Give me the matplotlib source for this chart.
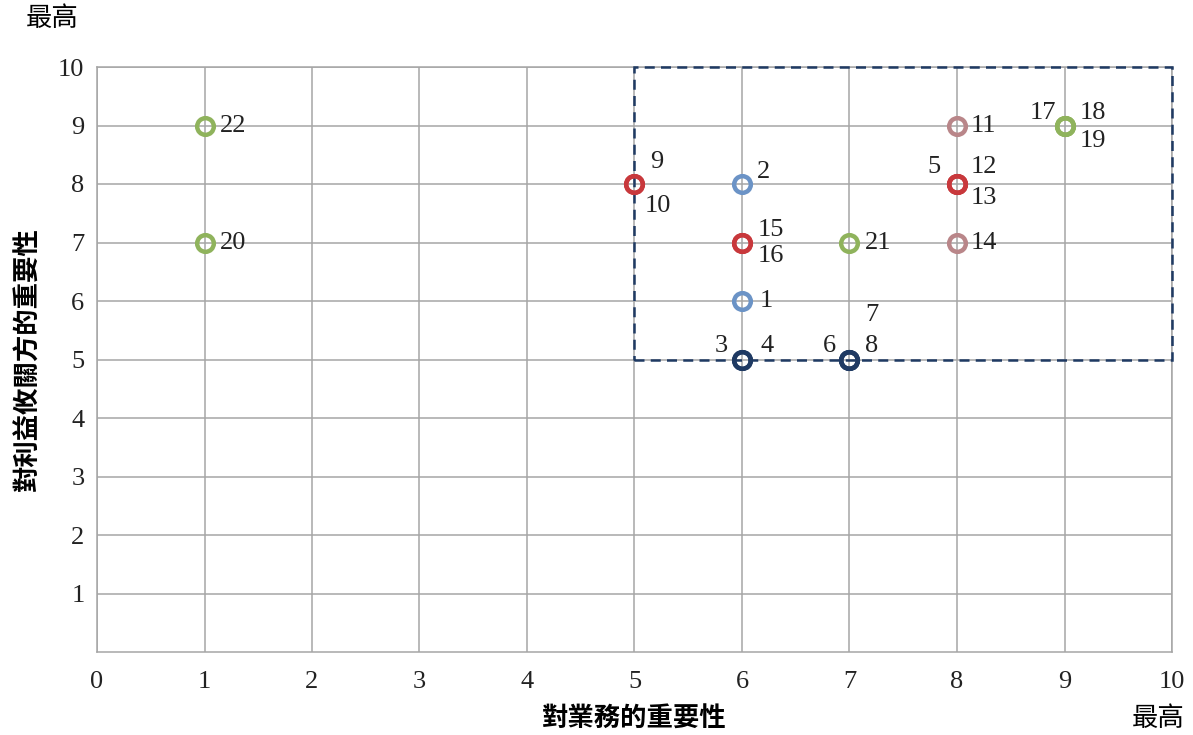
import matplotlib.pyplot as plt
from matplotlib.patches import Rectangle

# Datos: id de cada tema, importancia para el negocio (x), para las partes interesadas (y), grupo
ids = [1, 2, 3, 4, 5, 6, 7, 8, 9, 10, 11, 12, 13, 14, 15, 16, 17, 18, 19, 20, 21, 22]
negocio = [6, 6, 6, 6, 8, 7, 7, 7, 5, 5, 8, 8, 8, 8, 6, 6, 9, 9, 9, 1, 7, 1]
partes = [6, 8, 5, 5, 8, 5, 5, 5, 8, 8, 9, 8, 8, 7, 7, 7, 9, 9, 9, 7, 7, 9]
grupo = ['azul', 'azul', 'marino', 'marino', 'rojo', 'marino', 'marino', 'marino',
         'rojo', 'rojo', 'rosa', 'rojo', 'rojo', 'rosa', 'rojo', 'rojo',
         'verde', 'verde', 'verde', 'verde', 'verde', 'verde']
ticks = list(range(0, 11))

colores = {'azul': '#6b93c6', 'marino': '#1f3a63', 'rojo': '#c8383c',
           'rosa': '#b98689', 'verde': '#8fb35c'}

# desplazamiento de cada etiqueta (puntos) y alineacion
pos_etiqueta = {
    1: (13, 0, 'left'), 2: (11, 9, 'left'), 3: (-10, 10, 'right'), 4: (13, 10, 'left'),
    5: (-12, 12, 'right'), 6: (-10, 10, 'right'), 7: (11, 32, 'left'), 8: (11, 10, 'left'),
    9: (11, 16, 'left'), 10: (7, -16, 'left'), 11: (10, 0, 'left'), 12: (10, 12, 'left'),
    13: (10, -10, 'left'), 14: (10, 0, 'left'), 15: (11, 9, 'left'), 16: (11, -10, 'left'),
    17: (-6, 9, 'right'), 18: (11, 9, 'left'), 19: (11, -11, 'left'), 20: (11, 0, 'left'),
    21: (11, 0, 'left'), 22: (11, 0, 'left'),
}

serif = ['Liberation Serif', 'DejaVu Serif']
cjk = ['Noto Sans CJK TC', 'DejaVu Sans']

fig = plt.figure(figsize=(11.93, 7.35), dpi=100)
ax = fig.add_axes([97 / 1193, 1 - 652 / 735, 1075 / 1193, 585 / 735])
ax.set_xlim(0, 10)
ax.set_ylim(0, 10)
ax.set_xticks(ticks)
ax.set_yticks(ticks[1:])
ax.grid(True, color='#a6a6a6', linewidth=1.1)
ax.set_axisbelow(True)
for s in ax.spines.values():
    s.set_color('#a6a6a6')
    s.set_linewidth(1.1)
ax.tick_params(length=0, labelsize=19, colors='#222222', pad=9)
ax.tick_params(axis='x', pad=14)
for lab in ax.get_xticklabels() + ax.get_yticklabels():
    lab.set_family(serif)

# Recuadro discontinuo
ax.add_patch(Rectangle((5, 5), 5, 5, fill=False, edgecolor='#1f3a63', linewidth=1.8,
                       linestyle=(0, (4, 2.5)), zorder=3, clip_on=False))

# Puntos
for g, c in colores.items():
    xs = [negocio[i] for i in range(len(ids)) if grupo[i] == g]
    ys = [partes[i] for i in range(len(ids)) if grupo[i] == g]
    ax.plot(xs, ys, 'o', markersize=12, markerfacecolor='none', markeredgecolor=c,
            markeredgewidth=3.2, zorder=5, clip_on=False)

for i, n in enumerate(ids):
    dx, dy, ha = pos_etiqueta[n]
    ax.annotate(str(n), (negocio[i], partes[i]), xytext=(dx, dy), textcoords='offset points',
                ha=ha, va='center', fontsize=19, color='#222222', family=serif, zorder=6)

ax.set_xlabel('對業務的重要性', family=cjk, fontsize=19, fontweight='bold', labelpad=9)
ax.set_ylabel('對利益攸關方的重要性', family=cjk, fontsize=19, fontweight='bold', labelpad=12)
fig.text(52 / 1193, 1 - 18 / 735, '最高', family=cjk, fontsize=19, ha='center', va='center')
fig.text(1158 / 1193, 1 - 718 / 735, '最高', family=cjk, fontsize=19, ha='center', va='center')

fig.savefig('out.png', dpi=100)
